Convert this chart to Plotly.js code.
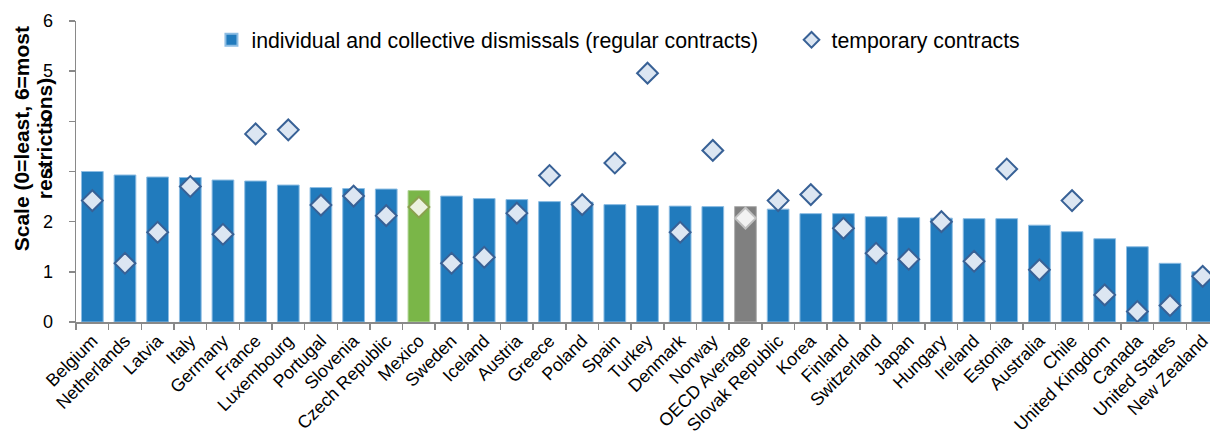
<!DOCTYPE html>
<html>
<head>
<meta charset="utf-8">
<script src="https://cdn.plot.ly/plotly-3.0.1.min.js"></script>
<style>
html, body { margin: 0; padding: 0; overflow: hidden; background: #fff; }
#chart { width: 1230px; height: 435px; }
</style>
</head>
<body>
<div id="chart"></div>
<script>
const countries = ["Belgium", "Netherlands", "Latvia", "Italy", "Germany", "France", "Luxembourg", "Portugal", "Slovenia", "Czech Republic", "Mexico", "Sweden", "Iceland", "Austria", "Greece", "Poland", "Spain", "Turkey", "Denmark", "Norway", "OECD Average", "Slovak Republic", "Korea", "Finland", "Switzerland", "Japan", "Hungary", "Ireland", "Estonia", "Australia", "Chile", "United Kingdom", "Canada", "United States", "New Zealand"];
const regularContracts = [3.00, 2.93, 2.89, 2.88, 2.83, 2.81, 2.73, 2.68, 2.66, 2.65, 2.62, 2.51, 2.46, 2.44, 2.40, 2.39, 2.34, 2.32, 2.31, 2.30, 2.30, 2.25, 2.16, 2.16, 2.10, 2.08, 2.07, 2.06, 2.06, 1.93, 1.80, 1.66, 1.50, 1.17, 1.00];
const temporaryContracts = [2.42, 1.17, 1.79, 2.70, 1.75, 3.75, 3.83, 2.33, 2.51, 2.12, 2.29, 1.17, 1.29, 2.17, 2.92, 2.34, 3.17, 4.96, 1.79, 3.42, 2.07, 2.42, 2.54, 1.87, 1.37, 1.25, 2.00, 1.21, 3.05, 1.04, 2.42, 0.54, 0.21, 0.33, 0.91];
const seriesNames = ["individual and collective dismissals (regular contracts)", "temporary contracts"];
const highlightMexico = "Mexico";
const highlightOECD = "OECD Average";

const barColors = countries.map(c => c === highlightMexico ? "#7AB648" : (c === highlightOECD ? "#808080" : "#217BBD"));
const barLineColors = countries.map(c => c === highlightMexico ? "#B5D69A" : (c === highlightOECD ? "#B0B0B0" : "#8DBDE3"));
const diamondFill = countries.map(c => c === highlightMexico ? "#EBF1DE" : (c === highlightOECD ? "#F2F2F2" : "#DCE6F2"));
const diamondLine = countries.map(c => c === highlightMexico ? "#8AA14E" : (c === highlightOECD ? "#C0C0C0" : "#386196"));

const font = "Arial, 'Liberation Sans', sans-serif";

const traces = [
  {
    type: "bar",
    name: seriesNames[0],
    x: countries,
    y: regularContracts,
    legend: "legend",
    marker: { color: barColors, line: { color: barLineColors, width: 1 } },
    hoverinfo: "skip"
  },
  {
    type: "scatter",
    mode: "markers",
    name: seriesNames[1],
    x: countries,
    y: temporaryContracts,
    legend: "legend2",
    cliponaxis: false,
    marker: { symbol: "diamond", size: 16, color: diamondFill, line: { color: diamondLine, width: 2 } },
    hoverinfo: "skip"
  }
];

const legendCommon = {
  orientation: "h",
  xanchor: "left",
  y: 0.937, yanchor: "middle",
  font: { family: font, size: 21.3, color: "#000000" },
  bgcolor: "rgba(0,0,0,0)",
  itemsizing: "constant"
};

const layout = {
  width: 1230,
  height: 435,
  margin: { l: 76, r: 11, t: 21, b: 113 },
  paper_bgcolor: "#ffffff",
  plot_bgcolor: "#ffffff",
  font: { family: font, color: "#000000", size: 18 },
  bargap: 0.335,
  showlegend: true,
  legend: Object.assign({}, legendCommon, { x: 0.1185 }),
  legend2: Object.assign({}, legendCommon, { x: 0.626 }),
  xaxis: {
    type: "category",
    tickangle: -45,
    tickfont: { family: font, size: 17.8, color: "#000000" },
    showline: true, linecolor: "#898989", linewidth: 1.5,
    ticks: "outside", tickson: "boundaries", ticklen: 6, tickcolor: "#898989", tickwidth: 1.5,
    showgrid: false, zeroline: false,
    range: [-0.5, 34.5]
  },
  yaxis: {
    range: [0, 6],
    dtick: 1,
    tickfont: { family: font, size: 18, color: "#000000" },
    showline: true, linecolor: "#898989", linewidth: 1.5,
    ticks: "outside", ticklen: 6, tickcolor: "#898989", tickwidth: 1.5,
    ticklabelstandoff: 12,
    showgrid: false, zeroline: false
  },
  annotations: [
    {
      text: "<b>Scale (0=least, 6=most</b>",
      xref: "paper", yref: "paper",
      x: -0.047, y: 0.608,
      xanchor: "center", yanchor: "middle",
      textangle: -90, showarrow: false,
      font: { family: font, size: 21, color: "#000000" }
    },
    {
      text: "<b>restrictions)</b>",
      xref: "paper", yref: "paper",
      x: -0.027, y: 0.608,
      xanchor: "center", yanchor: "middle",
      textangle: -90, showarrow: false,
      font: { family: font, size: 21, color: "#000000" }
    }
  ]
};

Plotly.newPlot("chart", traces, layout, { staticPlot: true, displayModeBar: false });
</script>
</body>
</html>
